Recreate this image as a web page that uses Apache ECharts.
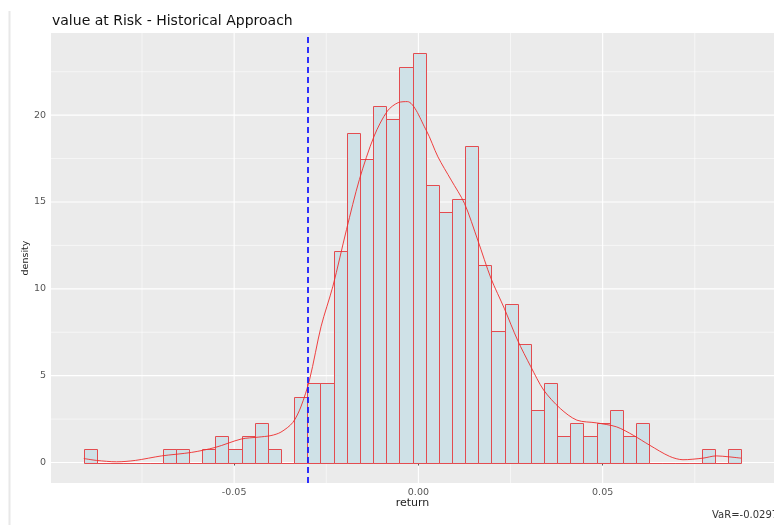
<!DOCTYPE html>
<html>
<head>
<meta charset="utf-8">
<title>value at Risk - Historical Approach</title>
<script src="https://cdn.jsdelivr.net/npm/echarts@6.0.0/dist/echarts.min.js"></script>
<style>
  html, body { margin: 0; padding: 0; background: #fff; }
  #main { width: 774px; height: 525px; }
</style>
</head>
<body>
<div id="main"></div>
<script>
// histogram: 50 bins starting at binStart, density
var binStart = -0.0908;
var binWidth = 0.003568;
var binDensity = [
  0.76, 0, 0, 0, 0, 0, 0.76, 0.76, 0, 0.76,
  1.52, 0.76, 1.52, 2.28, 0.76, 0, 3.80, 4.56, 4.56, 12.15,
  18.99, 17.47, 20.51, 19.75, 22.79, 23.55, 15.95, 14.43, 15.19, 18.23,
  11.39, 7.60, 9.12, 6.84, 3.04, 4.56, 1.52, 2.28, 1.52, 2.28,
  3.04, 1.52, 2.28, 0, 0, 0, 0, 0.76, 0, 0.76
];

// kernel density curve (x = return, y = density)
var kdeX = [
  -0.0908, -0.0873, -0.0819, -0.0768, -0.0697, -0.0616, -0.0551, -0.0481, -0.0435, -0.0400,
  -0.0373, -0.0341, -0.0319, -0.0295, -0.0264, -0.0232, -0.0195, -0.0160, -0.0120, -0.0084,
  -0.0055, -0.0030, 0.0021, 0.0053, 0.0089, 0.0125, 0.0161, 0.0197, 0.0233, 0.0269,
  0.0305, 0.0340, 0.0385, 0.0430, 0.0484, 0.0538, 0.0583, 0.0628, 0.0682, 0.0718,
  0.0772, 0.0808, 0.0841, 0.0876
];
var kdeY = [
  0.23, 0.12, 0.04, 0.12, 0.38, 0.58, 0.87, 1.35, 1.46, 1.55,
  1.75, 2.3, 3.2, 4.8, 7.84, 10.15, 13.42, 16.3, 18.8, 20.24,
  20.72, 20.78, 19.14, 17.6, 16.26, 14.92, 12.81, 10.6, 8.88, 7.05,
  5.52, 4.17, 3.11, 2.44, 2.28, 2.05, 1.57, 0.99, 0.35, 0.16,
  0.25, 0.38, 0.33, 0.25
];

var varValue = -0.0297;

var xTicks = [-0.05, 0, 0.05];
var yTicks = [0, 5, 10, 15, 20];
var xGrid = [-0.075, -0.05, -0.025, 0, 0.025, 0.05, 0.075];
var yGrid = [0, 2.5, 5, 7.5, 10, 12.5, 15, 17.5, 20, 22.5];

var chart = echarts.init(document.getElementById('main'), null, { renderer: 'canvas' });

var histData = [];
for (var i = 0; i < binDensity.length; i++) {
  histData.push([binStart + binWidth * i, binStart + binWidth * (i + 1), binDensity[i]]);
}
var kdeData = [];
for (var j = 0; j < kdeX.length; j++) {
  kdeData.push([kdeX[j], kdeY[j]]);
}

var font = 'DejaVu Sans, Verdana, sans-serif';

// white panel grid lines, thicker at labelled ticks
function gridRender(vertical, major) {
  return function (params, api) {
    var cs = params.coordSys;
    var v = api.value(vertical ? 0 : 1);
    var isMajor = major.indexOf(v) >= 0;
    var shape;
    if (vertical) {
      var px = api.coord([v, 0])[0];
      shape = { x1: px, y1: cs.y, x2: px, y2: cs.y + cs.height };
    } else {
      var py = api.coord([0, v])[1];
      shape = { x1: cs.x, y1: py, x2: cs.x + cs.width, y2: py };
    }
    return {
      type: 'line',
      shape: shape,
      style: { stroke: '#ffffff', lineWidth: isMajor ? 1.1 : 0.55 }
    };
  };
}

// one bin as a rect, snapped to half pixels so the 1px outline stays crisp
function binRender(style) {
  return function (params, api) {
    var p0 = api.coord([api.value(0), 0]);
    var p1 = api.coord([api.value(1), api.value(2)]);
    var x0 = Math.round(p0[0]) + 0.5;
    var x1 = Math.round(p1[0]) + 0.5;
    var yb = Math.round(p0[1]) + 0.5;
    var yt = Math.round(p1[1]) + 0.5;
    return {
      type: 'rect',
      shape: { x: x0, y: yt, width: x1 - x0, height: yb - yt },
      style: style
    };
  };
}

var option = {
  animation: false,
  title: {
    text: 'value at Risk - Historical Approach',
    left: 52,
    top: 14,
    padding: 0,
    textStyle: { fontFamily: font, fontSize: 14, fontWeight: 'normal', color: '#111' }
  },
  grid: {
    left: 51,
    right: -4,
    top: 33,
    bottom: 42,
    show: true,
    backgroundColor: '#ebebeb',
    borderWidth: 0
  },
  xAxis: {
    type: 'value',
    min: -0.0997,
    max: 0.0965,
    name: 'return',
    nameLocation: 'middle',
    nameGap: 15,
    nameMoveOverlap: false,
    nameTextStyle: { fontFamily: font, fontSize: 11, color: '#222', verticalAlign: 'top' },
    axisLine: { show: false },
    splitLine: { show: false },
    axisTick: { show: true, customValues: xTicks, length: 3, lineStyle: { color: '#555' } },
    axisLabel: {
      customValues: xTicks,
      margin: 5,
      fontFamily: font,
      fontSize: 9.5,
      color: '#555',
      formatter: function (v) { return v.toFixed(2); }
    }
  },
  yAxis: {
    type: 'value',
    min: -1.18,
    max: 24.73,
    name: 'density',
    nameLocation: 'middle',
    nameGap: 20,
    nameMoveOverlap: false,
    nameRotate: 90,
    nameTextStyle: { fontFamily: font, fontSize: 9.5, color: '#222' },
    axisLine: { show: false },
    splitLine: { show: false },
    axisTick: { show: true, customValues: yTicks, length: 3, lineStyle: { color: '#555' } },
    axisLabel: {
      customValues: yTicks,
      margin: 5,
      fontFamily: font,
      fontSize: 9.5,
      color: '#555'
    }
  },
  series: [
    {
      type: 'custom',
      silent: true,
      z: 0,
      data: xGrid.map(function (v) { return [v, 0]; }),
      renderItem: gridRender(true, xTicks)
    },
    {
      type: 'custom',
      silent: true,
      z: 0,
      data: yGrid.map(function (v) { return [0, v]; }),
      renderItem: gridRender(false, yTicks)
    },
    {
      name: 'histogram',
      type: 'custom',
      silent: true,
      z: 2,
      encode: { x: [0, 1], y: 2 },
      data: histData,
      renderItem: binRender({ fill: '#cfe1e7', stroke: 'none', lineWidth: 0 })
    },
    {
      name: 'histogram outline',
      type: 'custom',
      silent: true,
      z: 3,
      encode: { x: [0, 1], y: 2 },
      data: histData,
      renderItem: binRender({ fill: 'none', stroke: '#e34c50', lineWidth: 1 })
    },
    {
      name: 'density',
      type: 'line',
      z: 4,
      smooth: 0.3,
      showSymbol: false,
      data: kdeData,
      lineStyle: { color: '#ee2c2c', width: 0.9 },
      markLine: {
        silent: true,
        symbol: ['none', 'none'],
        label: { show: false },
        lineStyle: { color: '#1a1aff', type: [6, 4], width: 1.8 },
        data: [{ xAxis: varValue }]
      }
    }
  ],
  graphic: [
    {
      type: 'line',
      shape: { x1: 9.5, y1: 11, x2: 9.5, y2: 525 },
      style: { stroke: '#e8e8e8', lineWidth: 2 }
    },
    {
      type: 'text',
      left: 712,
      top: 510,
      style: { text: 'VaR=-0.0297', fontFamily: font, fontSize: 10, fill: '#333' }
    }
  ]
};

chart.setOption(option);
</script>
</body>
</html>
